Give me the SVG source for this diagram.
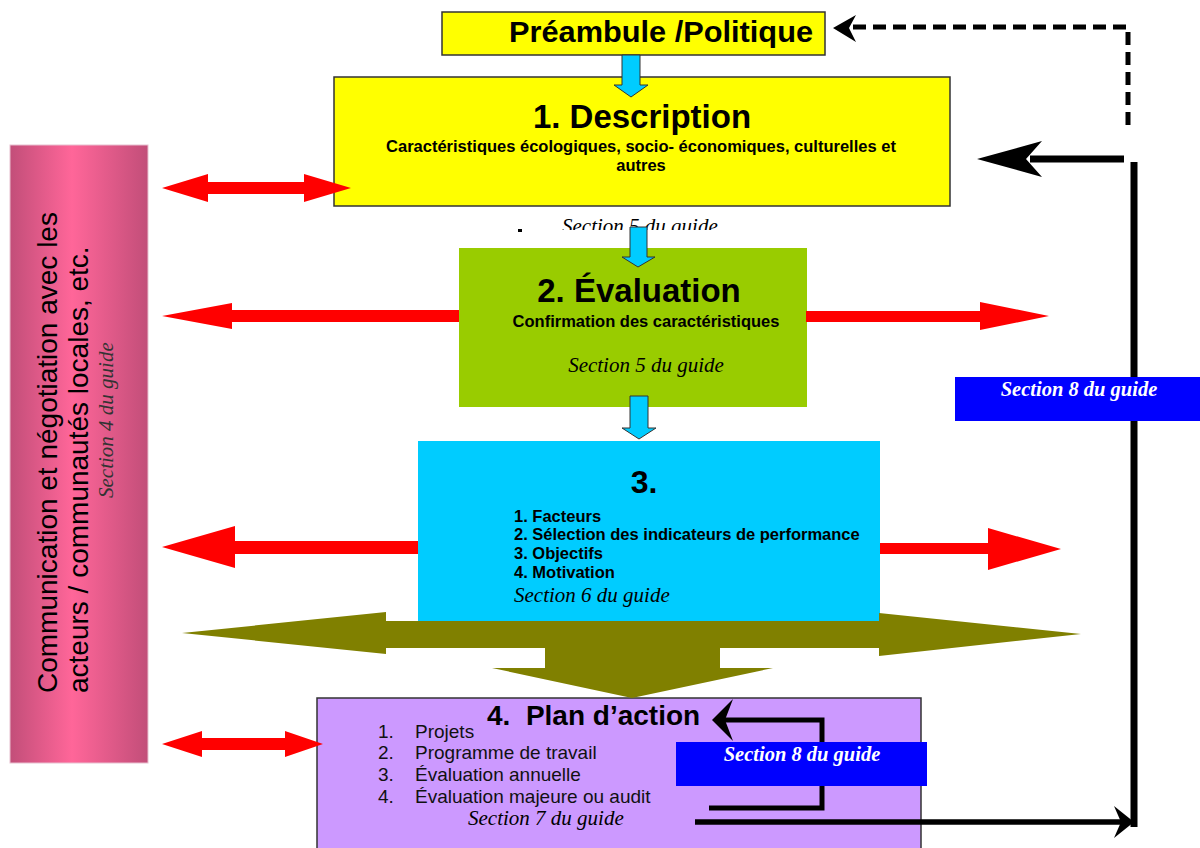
<svg xmlns="http://www.w3.org/2000/svg" width="1200" height="848" viewBox="0 0 1200 848">
<defs>
<linearGradient id="pinkGrad" x1="0" y1="0" x2="1" y2="0">
<stop offset="0" stop-color="#c24e79"/>
<stop offset="0.45" stop-color="#ff6699"/>
<stop offset="1" stop-color="#c24e79"/>
</linearGradient>
<clipPath id="clipS5"><rect x="500" y="206" width="300" height="24"/></clipPath>
<style>
.sans{font-family:"Liberation Sans",Arial,sans-serif;}
.serif{font-family:"Liberation Serif","Times New Roman",serif;font-style:italic;}
.b{font-weight:bold;}
.red{fill:#ff0000;}
.cyanArrow{fill:#00ccff;stroke:#333333;stroke-width:1;}
.blk{stroke:#000;fill:none;}
.white{fill:#ffffff;}
</style>
</defs>
<rect width="1200" height="848" fill="#ffffff"/>

<g id="pink-panel">
<rect x="10" y="145" width="138" height="618" fill="url(#pinkGrad)" stroke="#e8c0d0" stroke-width="1"/>
<text class="sans" font-size="28" transform="translate(57,693) rotate(-90)">Communication et négotiation avec les</text>
<text class="sans" font-size="28" transform="translate(88,693) rotate(-90)">acteurs / communautés locales, etc.</text>
<text class="serif" font-size="21" fill="#333" transform="translate(113,498) rotate(-90)">Section 4 du guide</text>
</g>

<g id="preambule">
<rect x="442" y="12" width="383" height="43" fill="#ffff00" stroke="#333" stroke-width="1.5"/>
<text class="sans b" font-size="30" x="509" y="42" textLength="304" lengthAdjust="spacingAndGlyphs">Préambule /Politique</text>
</g>

<g id="box1">
<rect x="334" y="77" width="616" height="129" fill="#ffff00" stroke="#333" stroke-width="1.5"/>
<text class="sans b" font-size="33" x="642" y="128" text-anchor="middle">1. Description</text>
<text class="sans b" font-size="16.5" x="641" y="152" text-anchor="middle">Caractéristiques écologiques, socio- économiques, culturelles et</text>
<text class="sans b" font-size="16.5" x="641" y="171" text-anchor="middle">autres</text>
</g>

<g id="section5-note">
<text class="serif" font-size="21" x="562" y="233" clip-path="url(#clipS5)">Section 5 du guide</text>
<rect x="518" y="229" width="4" height="3" fill="#000"/>
</g>

<g id="box2">
<rect x="459" y="248" width="348" height="159" fill="#99cc00"/>
<text class="sans b" font-size="33" x="639" y="302" text-anchor="middle">2. Évaluation</text>
<text class="sans b" font-size="16.5" x="646" y="327" text-anchor="middle">Confirmation des caractéristiques</text>
<text class="serif" font-size="21" x="646" y="372" text-anchor="middle">Section 5 du guide</text>
</g>

<g id="box3">
<rect x="418" y="441" width="462" height="180" fill="#00ccff"/>
<text class="sans b" font-size="32" x="644" y="493" text-anchor="middle">3.</text>
<text class="sans b" font-size="16.5" x="514" y="522">1. Facteurs</text>
<text class="sans b" font-size="16.5" x="514" y="540">2. Sélection des indicateurs de performance</text>
<text class="sans b" font-size="16.5" x="514" y="559">3. Objectifs</text>
<text class="sans b" font-size="16.5" x="514" y="578">4. Motivation</text>
<text class="serif" font-size="21" x="514" y="602">Section 6 du guide</text>
</g>

<g id="box4">
<rect x="317" y="698" width="604" height="170" fill="#cc99ff" stroke="#333" stroke-width="1.5"/>
<text class="sans b" font-size="28" x="487" y="725">4.&#160; Plan d’action</text>
<g class="sans" font-size="19" fill="#111">
<text x="378" y="738">1.</text><text x="415" y="738">Projets</text>
<text x="378" y="759">2.</text><text x="415" y="759">Programme de travail</text>
<text x="378" y="781">3.</text><text x="415" y="781">Évaluation annuelle</text>
<text x="378" y="803">4.</text><text x="415" y="803">Évaluation majeure ou audit</text>
</g>
<text class="serif" font-size="21" x="468" y="825">Section 7 du guide</text>
</g>

<g id="connectors">
<polygon class="cyanArrow" points="622,55 640,55 640,85 648,85 631,97 614,85 622,85"/>
<polygon class="cyanArrow" points="630,227 647,227 647,257 655,257 638,267 622,257 630,257"/>
<polygon class="cyanArrow" points="630,396 648,396 648,428 656,428 639,439 622,428 630,428"/>

<polygon fill="#808000" points="182,633 386,612 386,621 879,621 879,613 1081,634 879,656 879,648 720,648 720,668 773,668 632,698 492,668 545,668 545,648 386,648 386,654"/>

<polygon class="red" points="162,188 208,174 208,182 304,182 304,174 351,188 304,202 304,194 208,194 208,202"/>
<polygon class="red" points="162,316 232,303 232,310 459,310 459,322 232,322 232,329"/>
<polygon class="red" points="806,311 980,311 980,302 1049,316 980,330 980,322 806,322"/>
<polygon class="red" points="162,547 235,526 235,541 418,541 418,554 235,554 235,568"/>
<polygon class="red" points="880,543 988,543 988,528 1061,549 988,570 988,554 880,554"/>
<polygon class="red" points="162,744 202,731 202,738 285,738 285,731 323,744 285,757 285,750 202,750 202,757"/>

<path class="blk" d="M1128,125 V27 H848" stroke-width="5" stroke-dasharray="13 7"/>
<polygon fill="#000" points="833,28 856,15 849,28 856,42"/>

<path class="blk" d="M1124,159 H1030" stroke-width="7"/>
<polygon fill="#000" points="977,159 1042,141 1026,159 1042,177"/>
<path class="blk" d="M1134,162 V827" stroke-width="7"/>
<path class="blk" d="M695,822 H1122" stroke-width="5.5"/>
<polygon fill="#000" points="1134,822 1114,806 1121,822 1114,838"/>

<path class="blk" d="M709,808 H822 V720 H724" stroke-width="5"/>
<polygon fill="#000" points="712,720 733,699 725,720 733,741"/>
</g>

<g id="label-section8-right">
<rect x="955" y="377" width="245" height="44" fill="#0000ff"/>
<text class="serif b white" font-size="20.5" x="1079" y="396" text-anchor="middle">Section 8 du guide</text>
</g>

<g id="label-section8-loop">
<rect x="676" y="742" width="251" height="44" fill="#0000ff"/>
<text class="serif b white" font-size="20.5" x="802" y="761" text-anchor="middle">Section 8 du guide</text>
</g>
</svg>
